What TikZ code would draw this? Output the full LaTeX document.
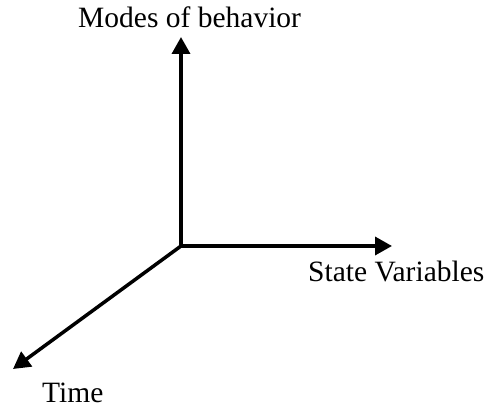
\documentclass[tikz,border=0pt]{standalone}
\usepackage{fontspec}
\setmainfont{Liberation Serif}
\usepackage{tikz}
\usetikzlibrary{arrows.meta}
\usetikzlibrary{positioning}
\tikzstyle{axis} = [draw, line width=3.5pt, -{Triangle[length=17pt, width=18pt]}]

\begin{document}
\begin{tikzpicture}[x=1pt, y=1pt, font=\fontsize{29.5}{35}\selectfont]
\useasboundingbox (0, 0) rectangle (490, 409);
\coordinate (O) at (181, 163);
\coordinate (modes) at (181, 372);
\coordinate (state) at (392, 163);
\coordinate (time) at (13, 40);
\path [axis] (O) -- (modes);
\path [axis] (O) -- (state);
\path [axis] (O) -- (time);

\node at (78, 381) [anchor=base west, inner sep=0] (lmodes) {Modes of behavior};
\node at (308, 127) [anchor=base west, inner sep=0] (lstate) {State Variables};
\node at (42, 6) [anchor=base west, inner sep=0] (ltime) {Time};
\end{tikzpicture}
\end{document}
